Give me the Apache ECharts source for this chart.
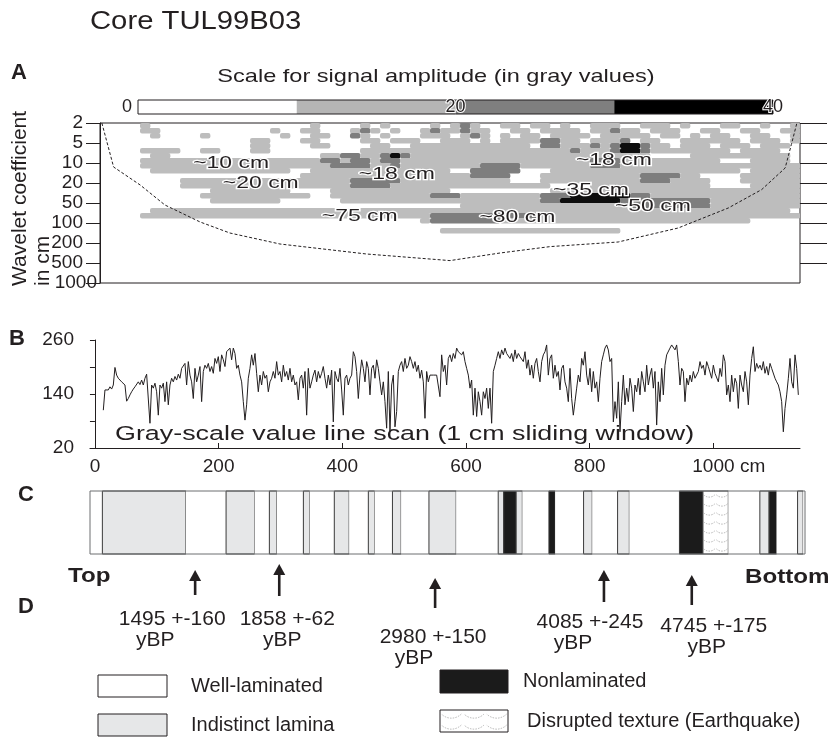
<!DOCTYPE html>
<html>
<head>
<meta charset="UTF-8">
<title>Core TUL99B03</title>
<script src="https://cdn.jsdelivr.net/npm/echarts@6/dist/echarts.min.js"></script>
<style>
html, body { margin: 0; padding: 0; background: #fff; }
#main { width: 838px; height: 737px; }
</style>
</head>
<body>
<div id="main"></div>
<script>
// ---------- data ----------
// A: wavelet scalogram (y = index into scaleLabels, x = depth in cm)
var scaleLabels = ['2', '5', '10', '20', '50', '100', '200', '500', '1000'];
var ampBreaks = [0, 10, 20, 30, 40];
var ampTicks = [0, 20, 40];
var scaloStart = 8, scaloStep = 16.17, scaloRowStep = 0.25;
// one string per row, one char per column: 0 white, 1 light, 2 mid gray, 3 black
var scalogram = [
  '0000100000' + '0000000000' + '0100001010' + '0001012100' + '1101101001' + '1100111010' + '0011001001',
  '0000110000' + '0000000100' + '1100012101' + '0012112110' + '0110111101' + '1211011100' + '1100110011',
  '0000010000' + '1000000010' + '0110021010' + '0011101210' + '1011011110' + '1111101101' + '0110011001',
  '0000000000' + '0000011000' + '1100001101' + '1100111010' + '1111221101' + '1120110011' + '1111011101',
  '0000000000' + '0000011000' + '0110000110' + '0111111111' + '1110221112' + '1233211011' + '1011101110',
  '0000111100' + '1100011000' + '0000001111' + '1111111111' + '1111111211' + '1233211111' + '1110111100',
  '0000011000' + '0000000000' + '0011221123' + '2111111111' + '1111111111' + '1111100001' + '1111111110',
  '0000111111' + '1111111111' + '1122122122' + '1111111111' + '1111111112' + '2211111111' + '1100011110',
  '0000111111' + '1111111111' + '1112222112' + '1111111122' + '2211111112' + '2211111111' + '1111111111',
  '0000011111' + '1111111110' + '0111111111' + '1111100222' + '2200011111' + '1111111111' + '1111011111',
  '0000000000' + '0000000000' + '1111111111' + '1111111222' + '2000111111' + '1111222211' + '0000111111',
  '0000000011' + '1111111111' + '1111122222' + '1111111111' + '1000111111' + '1111222111' + '1000111111',
  '0000000011' + '1111111111' + '1111122221' + '1111111111' + '1111100001' + '1111111111' + '1000011111',
  '0000000000' + '0111111110' + '0001111111' + '1111100000' + '0000011111' + '1111111111' + '1111111111',
  '0000000000' + '1111111111' + '1001111111' + '1112221111' + '1111222333' + '3332211111' + '1111111111',
  '0000000000' + '0111111100' + '0000111111' + '1111111111' + '1111223333' + '3322222222' + '2111111111',
  '0000000000' + '0000000000' + '0000000000' + '0000001111' + '1111111111' + '1112222222' + '2111111111',
  '0000011111' + '1111111111' + '1111111111' + '1111111111' + '1111111111' + '1111111111' + '1111111110',
  '0000111111' + '1111111111' + '1111111111' + '1112222222' + '2222111111' + '1111111111' + '1111111111',
  '0000000000' + '0000000000' + '0000000000' + '0012222222' + '1111111111' + '1111111111' + '1111100000',
  '0000000000' + '0000000000' + '0000000000' + '0000000000' + '0000000000' + '0000000000' + '0000000000',
  '0000000000' + '0000000000' + '0000000000' + '0000111111' + '1111111111' + '1100000000' + '0000000000'
];
// cone of influence
var coneDepth = [11, 30, 73, 113, 170, 218, 299, 439, 574, 655, 736, 846, 943, 1024, 1078, 1116, 1126, 1135];
var coneScale = [0, 2.2, 3.1, 4.1, 4.95, 5.5, 6.05, 6.55, 6.88, 6.5, 6.18, 5.95, 5.25, 4.25, 3.33, 2.25, 1.08, 0];
// period annotations
var periodText = ['~10 cm', '~20 cm', '~18 cm', '~75 cm', '~18 cm', '~35 cm', '~50 cm', '~80 cm'];
var periodDepth = [220, 268, 488, 428, 839, 802, 902, 683];
var periodScale = [2.0, 3.0, 2.55, 4.65, 1.88, 3.38, 4.18, 4.7];

// B: gray-scale line scan, sampled every scanStep cm from scanStart
var scanStart = 13.5, scanStep = 2.695;
var scanValues = [
  104,149,153,149,156,151,160,199,182,175, 179,167,171,160,124,130,138,145,151,156,
  160,167,161,171,160,175,184,188,75,160, 153,164,145,93,160,153,164,123,167,116,
  160,175,167,179,171,184,175,197,201,208, 160,212,182,167,130,197,167,182,201,123,
  190,204,197,208,190,201,186,219,208,223, 190,227,216,201,234,238,242,216,242,230,
  197,204,182,167,123,82,116,175,197,227, 204,230,186,145,182,160,190,175,182,145,
  167,175,190,175,212,182,190,167,204,179, 190,171,197,167,182,160,167,127,175,182,
  153,190,93,197,153,167,182,193,167,190, 175,186,201,175,153,182,160,193,78,190,
  175,167,197,149,93,175,182,160,175,182, 234,223,190,130,182,216,197,167,212,197,
  138,197,204,175,216,197,167,138,167,123, 64,190,56,160,182,67,101,190,204,212,
  190,219,197,204,223,212,197,212,190,204, 175,193,167,86,190,167,182,182,182,182,
  182,182,
  134,227,190,204,160,219,227,212,230,219, 242,234,238,227,234,212,197,182,153,171,
  93,153,90,145,123,93,145,130,153,108, 153,75,190,204,219,234,219,238,227,242,
  230,234,219,230,212,238,219,230,223,227, 212,234,197,216,182,204,175,208,219,190,
  167,212,227,234,249,182,219,227,175,204, 179,190,149,197,204,167,153,123,197,130,
  93,123,153,182,167,219,204,234,182,160, 197,145,190,153,167,123,175,212,227,242,
  249,238,212,219,78,123,86,167,56,123, 182,116,153,123,175,153,101,160,145,175,
  138,190,167,145,204,160,182,197,153,190, 71,167,123,197,138,204,227,230,242,249,
  253,238,249,212,160,197,190,123,175,160, 182,167,190,175,179,190,212,197,204,182,
  212,201,197,175,204,186,182,167,197,179, 227,212,138,160,123,182,145,175,164,108,
  182,160,145,190,167,116,182,219,245,190, 208,197,204,193,212,186,201,182,208,197,
  197,175,167,160,145,123,56,108,138,175, 219,167,153,227,197,138
];
var scanXTicks = [0, 200, 400, 600, 800, 1000];
var scanYTicks = [20, 140, 260];

// C: lithology strip (depth in cm)
var layerTop  = [3, 12, 147, 212, 258, 282, 294, 337, 347, 387, 411, 442, 452, 481, 495, 540, 584, 652, 661, 681, 691, 734, 744, 790, 804, 845, 864, 945, 983, 1024, 1075, 1090, 1102, 1136, 1145];
var layerBase = [12, 147, 212, 258, 282, 294, 337, 347, 387, 411, 442, 452, 481, 495, 540, 584, 652, 661, 681, 691, 734, 744, 790, 804, 845, 864, 945, 983, 1024, 1075, 1090, 1102, 1136, 1145, 1148];
var layerType = ['W','I','W','I','W','I','W','I','W','I','W','I','W','I','W','I','W','I','N','I','W','N','W','I','W','I','W','N','D','W','I','N','W','I','W'];
var layerNames = { W: 'Well-laminated', I: 'Indistinct lamina', N: 'Nonlaminated', D: 'Disrupted texture (Earthquake)' };

// D: dated horizons
var dateDepth = [162, 298, 550, 823, 965];
var dateText = ['1495 +-160', '1858 +-62', '2980 +-150', '4085 +-245', '4745 +-175'];
var dateUnit = 'yBP';

// ---------- drawing ----------
var FONT = "'Liberation Sans', Arial, Helvetica, sans-serif";
var INK = '#231f20';
var grayLevels = ['#ffffff', '#bdbdbd', '#7e7e7e', '#0d0d0d'];
var ampColors = ['#ffffff', '#b5b5b5', '#7f7f7f', '#000000'];
var layerFill = { W: '#ffffff', I: '#e6e7e8', N: '#1b1b1b', D: '#ffffff' };

// layout of the date labels (px)
var arrowTop = [570, 564, 578, 570, 575];
var arrowBottom = [595, 596, 608, 602, 605];
var dateY = [619, 619, 637, 622, 626];
var dateDx = [-23, 8, -2, -14, 22];
var unitDx = [-40, 3, -21, -31, 15];

var myChart = echarts.init(document.getElementById('main'));

function txt(x, y, s, size, opt) {
  opt = opt || {};
  return {
    type: 'text', x: x, y: y, rotation: opt.rot || 0, scaleX: opt.sx || 1, z: opt.z == null ? 20 : opt.z,
    style: {
      text: s, fontSize: size, fontFamily: FONT, fontWeight: opt.bold ? 'bold' : 'normal', fill: INK,
      align: opt.align || 'left', verticalAlign: opt.va || 'middle', lineHeight: opt.lh || size * 1.15
    }
  };
}

// small dotted arcs for the "disrupted texture" fill
function scallops(x, y, w, h, rows, perRow) {
  var out = [];
  var r = w / perRow * 0.62;
  for (var i = 0; i < rows; i++) {
    var cy = y + (i + 0.55) * h / rows - r * 0.85;
    for (var j = 0; j < perRow; j++) {
      out.push({
        type: 'arc',
        shape: { cx: x + w * (j + 0.5) / perRow, cy: cy, r: r, startAngle: Math.PI * 0.25, endAngle: Math.PI * 0.75, clockwise: true },
        style: { stroke: '#9a9a9a', fill: null, lineWidth: 0.7, lineDash: [1.5, 1.2] },
        z2: 5
      });
    }
  }
  return out;
}

// scalogram cells, runs of equal level merged per row
var scaloCells = [];
scalogram.forEach(function (row, r) {
  var c = 0;
  while (c < row.length) {
    var lv = row[c], c2 = c;
    while (c2 < row.length && row[c2] === lv) c2++;
    if (lv !== '0') {
      scaloCells.push([scaloStart + c * scaloStep, scaloStart + c2 * scaloStep, r * scaloRowStep, (r + 1) * scaloRowStep, +lv]);
    }
    c = c2;
  }
});

var ampCells = [];
for (var i = 0; i < ampBreaks.length - 1; i++) ampCells.push([ampBreaks[i], ampBreaks[i + 1], i]);

var scanData = scanValues.map(function (v, i) { return [scanStart + i * scanStep, v]; });
var coneData = coneDepth.map(function (d, i) { return [d, coneScale[i]]; });
var periodData = periodDepth.map(function (d, i) { return [d, periodScale[i]]; });
var layerData = layerTop.map(function (t, i) { return [t, layerBase[i], 0]; });
var dateData = dateDepth.map(function (d) { return [d, 0]; });

var option = {
  animation: false,
  backgroundColor: '#fff',
  textStyle: { fontFamily: FONT, color: INK },
  grid: [
    { left: 100, top: 123, width: 700, height: 160, show: true, borderColor: INK, borderWidth: 1, backgroundColor: 'transparent' },
    { left: 138, top: 100, width: 635, height: 14, show: true, borderColor: INK, borderWidth: 1, z: 10, backgroundColor: 'transparent' },
    { left: 90, top: 340, width: 710, height: 108 },
    { left: 90, top: 491, width: 715, height: 63, show: true, borderColor: '#6d6e71', borderWidth: 1, z: 10, backgroundColor: 'transparent' },
    { left: 90, top: 555, width: 710, height: 60 }
  ],
  xAxis: [
    { gridIndex: 0, type: 'value', min: 8, max: 1140, show: false },
    {
      gridIndex: 1, type: 'value', min: 0, max: 40, position: 'top', z: 10,
      axisLine: { show: false }, axisTick: { show: false }, splitLine: { show: false },
      axisLabel: {
        customValues: ampTicks, margin: -7, verticalAlign: 'middle', fontSize: 18, color: INK,
        textBorderColor: '#fff', textBorderWidth: 2,
        formatter: function (v) { return v === 0 ? '{z|0}' : String(v); },
        rich: { z: { fontSize: 18, padding: [0, 22, 0, 0], color: INK } }
      }
    },
    {
      gridIndex: 2, type: 'value', min: -8, max: 1140, splitLine: { show: false },
      axisLine: { lineStyle: { color: INK, width: 1 } },
      axisTick: { customValues: scanXTicks, inside: true, length: 5, lineStyle: { color: INK } },
      axisLabel: {
        customValues: scanXTicks, fontSize: 19, color: INK, margin: 9,
        formatter: function (v) { return scanXTicks.indexOf(v) >= 0 ? String(v) : ''; }
      }
    },
    { gridIndex: 3, type: 'value', min: -8, max: 1148, show: false },
    { gridIndex: 4, type: 'value', min: -8, max: 1140, show: false }
  ],
  yAxis: [
    {
      gridIndex: 0, type: 'value', min: 0, max: 8, interval: 1, inverse: true, splitLine: { show: false },
      axisLine: { show: true, lineStyle: { color: INK } },
      axisTick: { length: 14, lineStyle: { color: INK } },
      axisLabel: {
        fontSize: 19, color: INK, margin: 3,
        formatter: function (v) {
          var s = scaleLabels[v] || '';
          return v === scaleLabels.length - 1 ? s : '{p|' + s + '}';
        },
        rich: { p: { fontSize: 19, color: INK, padding: [0, 14, 0, 0] } }
      }
    },
    {
      gridIndex: 0, type: 'value', min: 0, max: 8, interval: 1, inverse: true, position: 'right', splitLine: { show: false },
      axisLine: { show: false },
      axisTick: { length: 27, customValues: [0, 1, 2, 3, 4, 5, 6, 7], lineStyle: { color: INK } },
      axisLabel: { show: false }
    },
    { gridIndex: 1, type: 'value', min: 0, max: 1, show: false },
    {
      gridIndex: 2, type: 'value', min: 20, max: 260, interval: 60, splitLine: { show: false },
      axisLine: { show: true, lineStyle: { color: INK } },
      axisTick: { length: 5, lineStyle: { color: INK } },
      axisLabel: {
        customValues: scanYTicks, fontSize: 19, color: INK, margin: 16,
        formatter: function (v) { return scanYTicks.indexOf(v) >= 0 ? String(v) : ''; }
      }
    },
    { gridIndex: 3, type: 'value', min: 0, max: 1, show: false },
    { gridIndex: 4, type: 'value', min: 0, max: 1, show: false }
  ],
  series: [
    {
      type: 'custom', name: 'scalogram', xAxisIndex: 0, yAxisIndex: 0, clip: true, z: 2,
      data: scaloCells, encode: { x: [0, 1], y: [2, 3] },
      renderItem: function (params, api) {
        var a = api.coord([api.value(0), api.value(2)]);
        var b = api.coord([api.value(1), api.value(3)]);
        return {
          type: 'rect',
          shape: { x: Math.min(a[0], b[0]), y: Math.min(a[1], b[1]), width: Math.abs(b[0] - a[0]) + 0.4, height: Math.abs(b[1] - a[1]) + 0.4, r: 2 },
          style: { fill: grayLevels[api.value(4)] }
        };
      }
    },
    {
      type: 'line', name: 'cone', xAxisIndex: 0, yAxisIndex: 0, z: 4, data: coneData,
      showSymbol: false, symbol: 'none', lineStyle: { color: INK, width: 1, type: [3, 2] }
    },
    {
      type: 'custom', name: 'periods', xAxisIndex: 0, yAxisIndex: 0, z: 6,
      data: periodData, encode: { x: 0, y: 1 },
      renderItem: function (params, api) {
        var p = api.coord([api.value(0), api.value(1)]);
        return {
          type: 'text', x: p[0], y: p[1], scaleX: 1.35,
          style: {
            text: periodText[params.dataIndex], fontSize: 17, fontFamily: FONT, fill: INK,
            stroke: '#fff', lineWidth: 2.5, align: 'center', verticalAlign: 'middle'
          }
        };
      }
    },
    {
      type: 'custom', name: 'amplitude', xAxisIndex: 1, yAxisIndex: 2, z: 2,
      data: ampCells, encode: { x: [0, 1] },
      renderItem: function (params, api) {
        var a = api.coord([api.value(0), 1]);
        var b = api.coord([api.value(1), 0]);
        return {
          type: 'rect', shape: { x: a[0], y: a[1], width: b[0] - a[0], height: b[1] - a[1] },
          style: { fill: ampColors[api.value(2)] }
        };
      }
    },
    {
      type: 'line', name: 'gray-scale', xAxisIndex: 2, yAxisIndex: 3, z: 3, data: scanData,
      showSymbol: false, symbol: 'none', lineStyle: { color: INK, width: 1 }
    },
    {
      type: 'custom', name: 'lithology', xAxisIndex: 3, yAxisIndex: 4, z: 2,
      data: layerData, encode: { x: [0, 1], y: 2 },
      renderItem: function (params, api) {
        var a = api.coord([api.value(0), 1]);
        var b = api.coord([api.value(1), 0]);
        var t = layerType[params.dataIndex];
        var w = b[0] - a[0], h = b[1] - a[1];
        var kids = [{
          type: 'rect', shape: { x: a[0], y: a[1], width: w, height: h },
          style: { fill: layerFill[t], stroke: t === 'W' ? null : '#3a3a3a', lineWidth: 1 }
        }];
        if (t === 'D') kids = kids.concat(scallops(a[0], a[1], w, h, 7, 2));
        return { type: 'group', children: kids };
      }
    },
    {
      type: 'custom', name: 'dates', xAxisIndex: 4, yAxisIndex: 5, z: 2,
      data: dateData, encode: { x: 0, y: 1 },
      renderItem: function (params, api) {
        var i = params.dataIndex;
        var x = api.coord([api.value(0), 0])[0];
        var top = arrowTop[i], bot = arrowBottom[i];
        return {
          type: 'group', children: [
            { type: 'line', shape: { x1: x, y1: top + 8, x2: x, y2: bot }, style: { stroke: INK, lineWidth: 2.6 } },
            { type: 'polygon', shape: { points: [[x - 6, top + 11], [x, top], [x + 6, top + 11]] }, style: { fill: INK } },
            { type: 'text', x: x + dateDx[i], y: dateY[i], style: { text: dateText[i], fontSize: 21, fontFamily: FONT, fill: INK, align: 'center', verticalAlign: 'middle' } },
            { type: 'text', x: x + unitDx[i], y: dateY[i] + 21, style: { text: dateUnit, fontSize: 21, fontFamily: FONT, fill: INK, align: 'center', verticalAlign: 'middle' } }
          ]
        };
      }
    }
  ],
  graphic: [
    txt(90, 22, 'Core TUL99B03', 25, { sx: 1.17 }),
    txt(11, 73, 'A', 22, { bold: true }),
    txt(436, 77, 'Scale for signal amplitude (in gray values)', 19, { sx: 1.24, align: 'center' }),
    txt(9, 286, 'Wavelet coefficient\nin cm', 21, { rot: Math.PI / 2, va: 'top', lh: 23 }),
    txt(9, 339, 'B', 22, { bold: true }),
    txt(115, 434, 'Gray-scale value line scan (1 cm sliding window)', 20.5, { sx: 1.31, z: 0 }),
    txt(740, 467, 'cm', 19),
    txt(18, 495, 'C', 22, { bold: true }),
    txt(68, 576, 'Top', 21, { bold: true, sx: 1.15 }),
    txt(745, 577, 'Bottom', 21, { bold: true, sx: 1.15 }),
    txt(18, 607, 'D', 22, { bold: true }),
    // legend
    { type: 'rect', shape: { x: 98, y: 675, width: 69, height: 22 }, style: { fill: layerFill.W, stroke: INK, lineWidth: 1 } },
    txt(191, 686, layerNames.W, 20),
    { type: 'rect', shape: { x: 98, y: 714, width: 69, height: 22 }, style: { fill: layerFill.I, stroke: INK, lineWidth: 1 } },
    txt(191, 725, layerNames.I, 20),
    { type: 'rect', shape: { x: 440, y: 670, width: 68, height: 23 }, style: { fill: layerFill.N, stroke: INK, lineWidth: 1 } },
    txt(523, 681, layerNames.N, 20),
    {
      type: 'group', children: [{ type: 'rect', shape: { x: 440, y: 710, width: 68, height: 22 }, style: { fill: '#fff', stroke: INK, lineWidth: 1 } }]
        .concat(scallops(440, 710, 68, 22, 2, 3))
    },
    txt(527, 721, layerNames.D, 20)
  ]
};

myChart.setOption(option);
</script>
</body>
</html>
